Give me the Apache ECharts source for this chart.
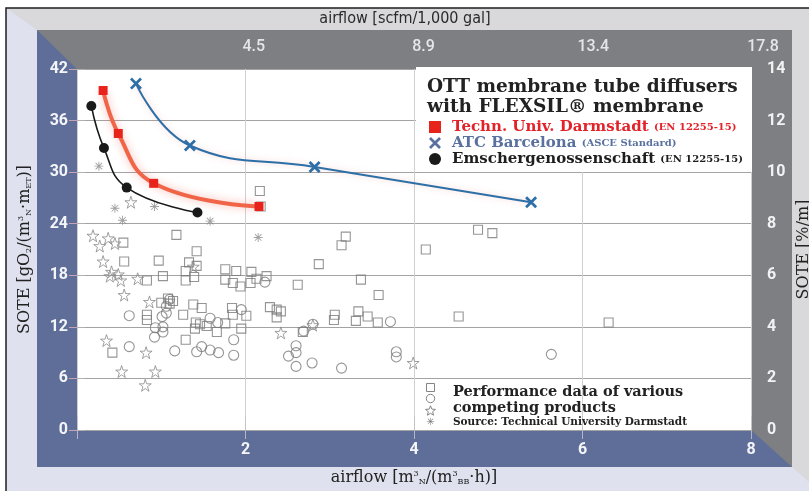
<!DOCTYPE html>
<html>
<head>
<meta charset="utf-8">
<script src="https://cdn.jsdelivr.net/npm/echarts@6/dist/echarts.min.js"></script>
<style>
html, body { margin: 0; padding: 0; background: #fff; }
#chart { width: 809px; height: 491px; }
</style>
</head>
<body>
<div id="chart"></div>
<script>
// valores
var tudX = [0.31, 0.49, 0.91, 2.16];
var tudY = [39.5, 34.5, 28.7, 26.0];
var atcX = [0.70, 1.34, 2.82, 5.39];
var atcY = [40.3, 33.1, 30.6, 26.5];
var emsX = [0.17, 0.32, 0.59, 1.43];
var emsY = [37.7, 32.8, 28.2, 25.3];

var squareX = [0.55, 1.18, 1.42, 0.56, 0.97, 1.33, 1.42, 0.83, 1.02, 1.29, 1.29, 1.39, 1.76, 1.89, 1.76, 1.85, 1.94, 2.07, 2.06, 2.13, 2.25, 2.62, 2.87, 3.14, 3.19, 3.37, 3.58, 2.17, 2.18, 1.00, 1.08, 1.14, 1.10, 1.38, 1.48, 0.83, 0.83, 1.26, 1.41, 1.46, 1.54, 1.66, 1.76, 1.84, 1.85, 1.95, 2.01, 2.29, 2.37, 2.42, 2.37, 3.06, 3.05, 3.34, 3.31, 3.45, 3.57, 1.29, 0.42, 1.40, 2.68, 4.76, 4.93, 4.14, 4.53, 6.31];
var squareY = [21.8, 22.7, 20.8, 19.6, 19.7, 19.5, 19.1, 17.4, 17.9, 18.5, 17.4, 17.8, 18.7, 18.5, 17.5, 17.1, 16.7, 18.4, 17.1, 17.6, 17.9, 16.9, 19.3, 21.5, 22.5, 17.5, 15.7, 27.8, 26.0, 14.8, 15.3, 15.0, 14.7, 14.6, 14.2, 13.4, 12.8, 13.4, 12.5, 12.3, 12.1, 11.4, 12.4, 14.2, 13.4, 11.8, 13.3, 14.3, 14.0, 13.8, 13.1, 13.4, 12.8, 13.8, 12.7, 13.2, 12.5, 10.5, 9.0, 11.8, 11.4, 23.3, 22.9, 21.0, 13.2, 12.5];
var circleX = [0.62, 1.01, 1.06, 1.06, 1.10, 0.93, 1.02, 1.02, 0.92, 1.58, 1.67, 1.95, 2.23, 1.86, 1.86, 0.62, 1.16, 1.42, 1.48, 1.58, 1.68, 2.60, 2.60, 2.51, 2.60, 2.79, 3.14, 2.69, 2.80, 3.72, 3.79, 3.79, 5.63];
var circleY = [13.3, 13.2, 13.6, 14.4, 15.2, 11.9, 12.0, 11.4, 10.8, 13.0, 12.5, 14.0, 17.2, 10.5, 8.7, 9.7, 9.2, 9.1, 9.7, 9.3, 9.0, 9.8, 9.0, 8.6, 7.4, 7.8, 7.2, 11.5, 12.3, 12.6, 9.1, 8.5, 8.8];
var starX = [0.19, 0.27, 0.37, 0.45, 0.31, 0.41, 0.49, 0.52, 0.72, 0.39, 0.56, 0.86, 1.38, 0.35, 0.82, 0.53, 0.93, 0.81, 2.42, 2.80, 0.64, 3.99];
var starY = [22.6, 21.4, 22.3, 21.7, 19.6, 18.4, 18.1, 17.4, 17.6, 17.9, 15.7, 14.9, 19.0, 10.4, 9.0, 6.8, 6.8, 5.2, 11.3, 12.2, 26.5, 7.8];
var asterX = [0.26, 0.45, 0.54, 0.92, 1.58, 2.15];
var asterY = [30.7, 25.8, 24.4, 26.0, 24.3, 22.4];

var topTickLabels = ['', '4.5', '8.9', '13.4', '17.8'];
var legendSuffix = {
    'Techn. Univ. Darmstadt': '(EN 12255-15)',
    'ATC Barcelona': '(ASCE Standard)',
    'Emschergenossenschaft': '(EN 12255-15)'
};

function zip(xs, ys) {
    return xs.map(function (x, i) { return [x, ys[i]]; });
}

// estrela pequena para a legenda de baixo
function starPoints(cx, cy, r1, r2) {
    var pts = [];
    for (var i = 0; i < 10; i++) {
        var a = -Math.PI / 2 + i * Math.PI / 5;
        var r = i % 2 ? r2 : r1;
        pts.push([cx + r * Math.cos(a), cy + r * Math.sin(a)]);
    }
    return pts;
}

var serif = "'DejaVu Serif', serif";
var sans = "Roboto, 'DejaVu Sans', sans-serif";
var crossPath = 'path://M0,1.6 L1.6,0 L10,8.4 L8.4,10 Z M8.4,0 L10,1.6 L1.6,10 L0,8.4 Z';
var starPath = 'path://M50,2 L61,36 L97,36 L68,57 L79,92 L50,71 L21,92 L32,57 L3,36 L39,36 Z';
var asterPath = 'path://M0,4.5 L10,4.5 L10,5.5 L0,5.5 Z M4.5,0 L5.5,0 L5.5,10 L4.5,10 Z M1,1.7 L1.7,1 L9,8.3 L8.3,9 Z M8.3,1 L9,1.7 L1.7,9 L1,8.3 Z';
var subSup = {
    sup: { fontSize: 8, fontFamily: serif, verticalAlign: 'top', color: '#222' },
    sub: { fontSize: 8, fontFamily: serif, verticalAlign: 'bottom', color: '#222' }
};

var option = {
    animation: false,
    grid: [
        { left: 77, top: 69, width: 674, height: 361, show: true, backgroundColor: '#fff', borderWidth: 0, outerBoundsMode: 'none', containLabel: false },
        { left: 84, top: 69, width: 679, height: 361, show: false, outerBoundsMode: 'none', containLabel: false }
    ],
    title: {
        text: 'OTT membrane tube diffusers\nwith FLEXSIL® membrane',
        left: 427, top: 77, padding: 0, z: 10,
        textStyle: { fontFamily: serif, fontWeight: 'bold', fontSize: 18.5, lineHeight: 20, color: '#222' }
    },
    legend: {
        orient: 'vertical', left: 429, top: 119, padding: 0, itemGap: 0,
        itemWidth: 12, itemHeight: 12, z: 10, selectedMode: false,
        data: [
            { name: 'Techn. Univ. Darmstadt', icon: 'rect', textStyle: { color: '#e3222a' } },
            { name: 'ATC Barcelona', icon: crossPath, itemStyle: { color: '#5a71a0' }, textStyle: { color: '#5a71a0' } },
            { name: 'Emschergenossenschaft', icon: 'circle', textStyle: { color: '#1e1e1e' } }
        ],
        formatter: function (name) {
            return name + ' {s|' + legendSuffix[name] + '}';
        },
        textStyle: {
            fontFamily: serif, fontWeight: 'bold', fontSize: 15, lineHeight: 16, padding: [0, 0, 0, 6],
            rich: { s: { fontFamily: serif, fontWeight: 'bold', fontSize: 10 } }
        }
    },
    xAxis: [
        {
            gridIndex: 0, type: 'value', position: 'bottom', min: 0, max: 8, interval: 2,
            axisLine: { show: false },
            axisTick: { show: true, length: 9, lineStyle: { color: '#b9b3c8' } },
            splitLine: { show: true, lineStyle: { color: '#d0d0d0', width: 1 } },
            axisLabel: {
                margin: 12, color: '#f4f5f8', fontFamily: sans, fontWeight: 'bold', fontSize: 16,
                formatter: function (v) { return v === 0 ? '' : String(v); }
            },
            name: 'airflow [m{sup|3}{sub|N}/(m{sup|3}{sub|BB}·h)]',
            nameLocation: 'middle', nameGap: 40,
            nameTextStyle: { fontFamily: serif, fontSize: 16, color: '#222', rich: subSup }
        },
        {
            gridIndex: 1, type: 'value', position: 'top', min: 0, max: 17.83, interval: 4.4575,
            axisLine: { show: false }, axisTick: { show: false }, splitLine: { show: false },
            axisLabel: {
                margin: 14, color: '#e6e6e8', fontFamily: sans, fontWeight: 500, fontSize: 16,
                formatter: function (v) { return topTickLabels[Math.round(v / 4.4575)]; }
            }
        },
        {
            gridIndex: 0, type: 'value', position: 'top', min: 0, max: 8, interval: 2,
            axisLine: { show: false },
            axisTick: { show: true, length: 14, lineStyle: { color: '#c4c4c4' } },
            splitLine: { show: false }, axisLabel: { show: false },
            name: 'airflow [scfm/1,000 gal]', nameLocation: 'middle', nameGap: 42,
            nameTextStyle: { fontFamily: "'Liberation Sans Narrow', 'DejaVu Sans Condensed', sans-serif", fontSize: 16, color: '#2a2a2a', padding: [0, 18, 0, 0] }
        }
    ],
    yAxis: [
        {
            gridIndex: 0, type: 'value', position: 'left', min: 0, max: 42, interval: 6,
            axisLine: { show: false },
            axisTick: { show: true, length: 8, lineStyle: { color: '#c9a3b3' } },
            splitLine: { show: true, lineStyle: { color: '#a3a3a3', width: 1 } },
            axisLabel: { margin: 9, color: '#f4f5f8', fontFamily: sans, fontWeight: 'bold', fontSize: 16 },
            name: 'SOTE [gO{sub|2}/(m{sup|3}{sub|N}·m{sub|ET})]',
            nameLocation: 'middle', nameGap: 44, nameRotate: 90,
            nameTextStyle: { fontFamily: serif, fontSize: 16, color: '#222', rich: subSup }
        },
        {
            gridIndex: 0, type: 'value', position: 'right', min: 0, max: 14, interval: 2,
            axisLine: { show: false },
            axisTick: { show: true, length: 8, lineStyle: { color: '#b0b0b0' } },
            splitLine: { show: false },
            axisLabel: { margin: 16, color: '#f2f2f4', fontFamily: sans, fontWeight: 'bold', fontSize: 16 },
            name: 'SOTE [%/m]', nameLocation: 'middle', nameGap: 42, nameRotate: 90,
            nameTextStyle: { fontFamily: serif, fontSize: 16, color: '#222' }
        },
        { gridIndex: 1, type: 'value', min: 0, max: 1, show: false }
    ],
    graphic: [
        { type: 'rect', z: -10, silent: true, shape: { x: 0, y: 0, width: 809, height: 491 }, style: { fill: '#ffffff' } },
        { type: 'rect', z: -9, silent: true, shape: { x: 6, y: 8, width: 803, height: 483 }, style: { fill: '#d9d9db' } },
        { type: 'polygon', z: -9, silent: true, shape: { points: [[6, 8], [37, 30], [37, 467], [792, 467], [809, 482], [809, 491], [6, 491]] }, style: { fill: '#dfe1ee' } },
        { type: 'rect', z: -8, silent: true, shape: { x: 37, y: 30, width: 755, height: 437 }, style: { fill: '#7e7f83' } },
        { type: 'polygon', z: -7, silent: true, shape: { points: [[37, 30], [77, 69], [77, 430], [751, 430], [792, 467], [37, 467]] }, style: { fill: '#5e6e99' } },
        { type: 'polyline', z: -6, silent: true, shape: { points: [[6, 491], [6, 8], [809, 8]] }, style: { stroke: '#1e1e1e', lineWidth: 1.5, fill: null } },
        { type: 'rect', z: 3, silent: true, shape: { x: 416, y: 67, width: 336, height: 105 }, style: { fill: '#ffffff' } },
        { type: 'rect', z: 10, silent: true, shape: { x: 426.5, y: 383.5, width: 8, height: 8 }, style: { fill: null, stroke: '#777', lineWidth: 0.9 } },
        { type: 'circle', z: 10, silent: true, shape: { cx: 430.5, cy: 398.5, r: 4.2 }, style: { fill: null, stroke: '#777', lineWidth: 0.9 } },
        { type: 'polygon', z: 10, silent: true, shape: { points: starPoints(430.5, 411, 5.2, 2.3) }, style: { fill: null, stroke: '#777', lineWidth: 0.9 } },
        {
            type: 'text', z: 10, silent: true, x: 430.5, y: 417,
            style: { text: '✳', fontFamily: "'DejaVu Sans', sans-serif", fontSize: 10, fill: '#777', align: 'center' }
        },
        {
            type: 'text', z: 10, silent: true, x: 453, y: 384,
            style: { text: 'Performance data of various\ncompeting products', fontFamily: serif, fontWeight: 'bold', fontSize: 14.5, lineHeight: 16, fill: '#222' }
        },
        {
            type: 'text', z: 10, silent: true, x: 453, y: 417,
            style: { text: 'Source: Technical University Darmstadt', fontFamily: serif, fontWeight: 'bold', fontSize: 10.5, fill: '#222' }
        }
    ],
    series: [
        {
            name: 'Squares', type: 'scatter', data: zip(squareX, squareY), symbol: 'rect', symbolSize: 9, z: 2, silent: true,
            itemStyle: { color: 'transparent', borderColor: '#7a7a7a', borderWidth: 1.1 }
        },
        {
            name: 'Circles', type: 'scatter', data: zip(circleX, circleY), symbol: 'circle', symbolSize: 10, z: 2, silent: true,
            itemStyle: { color: 'transparent', borderColor: '#7a7a7a', borderWidth: 1.1 }
        },
        {
            name: 'Stars', type: 'scatter', data: zip(starX, starY), symbol: starPath, symbolSize: 12, z: 2, silent: true,
            itemStyle: { color: 'transparent', borderColor: '#8a8a8a', borderWidth: 1 }
        },
        {
            name: 'Asterisks', type: 'scatter', data: zip(asterX, asterY), symbol: asterPath, symbolSize: 9, z: 2, silent: true,
            itemStyle: { color: '#8a8a8a' }
        },
        {
            name: 'Techn. Univ. Darmstadt', type: 'line', data: zip(tudX, tudY), smooth: 0.45, z: 5, silent: true,
            symbol: 'rect', symbolSize: 9, showAllSymbol: true,
            lineStyle: { color: '#f06448', width: 4, shadowBlur: 8, shadowColor: 'rgba(240,90,70,0.45)' },
            itemStyle: { color: '#e8231c' }
        },
        {
            name: 'ATC Barcelona', type: 'line', data: zip(atcX, atcY), smooth: 0.45, z: 5, silent: true,
            symbol: crossPath, symbolSize: 12, showAllSymbol: true,
            lineStyle: { color: '#2d6fa7', width: 2, shadowBlur: 6, shadowColor: 'rgba(240,120,120,0.35)' },
            itemStyle: { color: '#2d6fa7' }
        },
        {
            name: 'Emschergenossenschaft', type: 'line', data: zip(emsX, emsY), smooth: 0.45, z: 5, silent: true,
            symbol: 'circle', symbolSize: 10, showAllSymbol: true,
            lineStyle: { color: '#1a1a1a', width: 1.6 },
            itemStyle: { color: '#1a1a1a' }
        }
    ]
};

var myChart = echarts.init(document.getElementById('chart'));
myChart.setOption(option);
</script>
</body>
</html>
